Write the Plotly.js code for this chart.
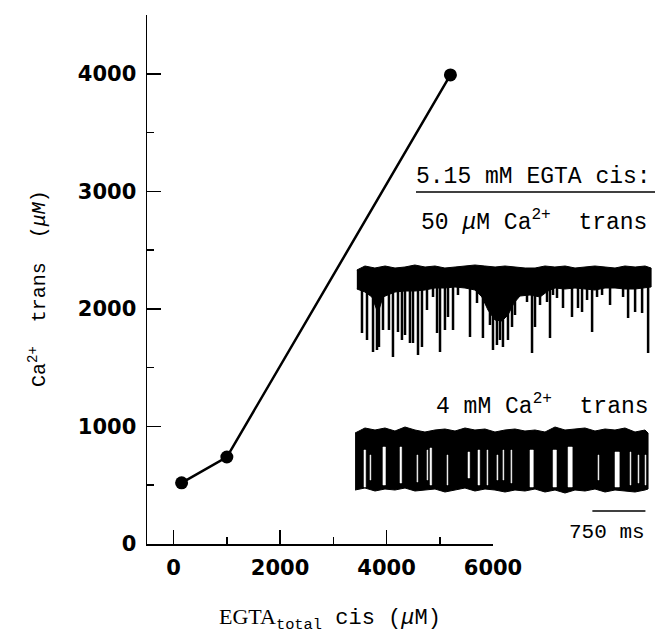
<!DOCTYPE html>
<html>
<head>
<meta charset="utf-8">
<script src="https://cdn.plot.ly/plotly-3.0.1.min.js"></script>
<style>html,body{margin:0;padding:0;background:#fff;}</style>
</head>
<body>
<div id="chart" style="width:659px;height:635px;"></div>
<script>
// ---- main graph: Ca2+ trans vs EGTA total cis (µM) ----
const egtaTotalCis = [150, 1000, 5200];
const caTrans = [520, 740, 3990];

// ---- inset record 1: 5.15 mM EGTA cis, 50 µM Ca2+ trans (time in ms, current in arbitrary units) ----
const rec1TopT = [0,115,255,400,540,680,820,965,1105,1245,1390,1530,1670,1810,1955,2095,2235,2380,2520,2660,2800,2945,3085,3225,3365,3510,3650,3790,3935,4075,4160];
const rec1TopV = [-5,-1,-3,-1,-3,-2,0,-2,-1,-3,-2,-1,0,-1,-2,-1,-2,-3,-3,-1,-2,-1,-3,-2,-1,-2,-3,-1,-2,-1,-3];
const rec1BotT = [0,115,214,299,370,539,681,822,963,1105,1246,1388,1529,1670,1769,1854,1953,2052,2137,2222,2307,2448,2590,2703,2802,2943,3084,3226,3367,3509,3650,3791,3933,4074,4160];
const rec1BotV = [-24,-27,-32,-48,-32,-27,-26,-26,-25,-23,-23,-22,-23,-25,-32,-45,-55,-56,-50,-38,-31,-30,-32,-26,-23,-24,-23,-24,-25,-23,-23,-24,-24,-23,-22];
const rec1EventT = [73,144,229,285,313,370,454,511,582,638,681,751,794,865,921,992,1077,1134,1176,1246,1289,1360,1430,1600,1699,1783,1882,1925,1981,2024,2066,2137,2194,2236,2335,2406,2477,2519,2590,2689,2731,2774,2830,2915,3042,3127,3184,3255,3326,3396,3467,3580,3764,3835,3934,4033,4118];
const rec1EventMin = [-68,-75,-87,-85,-82,-65,-65,-92,-67,-75,-70,-78,-78,-90,-82,-45,-32,-68,-87,-65,-52,-65,-30,-72,-38,-73,-60,-85,-80,-75,-82,-75,-62,-50,-30,-37,-88,-62,-40,-37,-73,-30,-33,-43,-52,-43,-47,-35,-67,-32,-30,-40,-32,-53,-47,-48,-88];

// ---- inset record 2: 5.15 mM EGTA cis, 4 mM Ca2+ trans ----
const rec2T = [-25,115,257,398,539,681,822,963,1105,1246,1388,1529,1670,1812,1953,2095,2236,2377,2519,2660,2802,2943,3084,3226,3367,3509,3650,3791,3933,4074,4117];
const rec2TopV = [-8,-3,-5,-3,-6,-2,-5,-7,-5,-4,-6,-3,-5,-4,-7,-5,-4,-6,-5,-7,-2,-5,-4,-3,-6,-4,-5,-3,-7,-5,-8];
const rec2BotV = [-65,-63,-66,-64,-65,-63,-66,-65,-64,-67,-65,-63,-66,-64,-65,-67,-65,-66,-64,-67,-65,-68,-65,-66,-64,-67,-65,-66,-67,-65,-64];
// open dwell periods (no closings) : start, end, upper, lower
const rec2DwellStart = [101,186,369,610,850,992,1035,1275,1572,1713,1840,1981,2066,2179,2448,2774,2986,3410,3650,3863,3976,4075];
const rec2DwellEnd   = [125,198,405,634,862,1003,1058,1287,1595,1737,1852,1994,2078,2191,2495,2822,3046,3422,3711,3875,3988,4087];
const rec2DwellUp    = [-25,-30,-22,-22,-30,-25,-23,-30,-27,-25,-25,-30,-25,-25,-25,-25,-22,-30,-27,-27,-30,-30];
const rec2DwellLow   = [-62,-55,-60,-58,-57,-55,-60,-60,-53,-60,-60,-55,-55,-58,-62,-62,-62,-55,-62,-60,-58,-60];

const scaleBarMs = 750;
const scaleBarStart = 3330;

// ---- build traces ----
function bandPolygon(tTop, vTop, tBot, vBot) {
  return {
    x: tTop.concat(tBot.slice().reverse()),
    y: vTop.concat(vBot.slice().reverse())
  };
}
const band1 = bandPolygon(rec1TopT, rec1TopV, rec1BotT, rec1BotV);
const band2 = bandPolygon(rec2T, rec2TopV, rec2T, rec2BotV);

const ev1x = [], ev1y = [];
rec1EventT.forEach((t, i) => { ev1x.push(t, t, null); ev1y.push(-18, rec1EventMin[i], null); });

const dx = [], dy = [];
rec2DwellStart.forEach((s, i) => {
  const e = rec2DwellEnd[i];
  dx.push(s, e, e, s, s, null);
  dy.push(rec2DwellUp[i], rec2DwellUp[i], rec2DwellLow[i], rec2DwellLow[i], rec2DwellUp[i], null);
});

const traces = [
  {x: egtaTotalCis, y: caTrans, type: 'scatter', mode: 'lines+markers',
   line: {color: '#000', width: 2.5}, marker: {color: '#000', size: 13},
   xaxis: 'x', yaxis: 'y', cliponaxis: false, hoverinfo: 'skip'},
  {x: band1.x, y: band1.y, type: 'scatter', mode: 'lines', fill: 'toself',
   fillcolor: '#000', line: {color: '#000', width: 1}, xaxis: 'x2', yaxis: 'y2', hoverinfo: 'skip'},
  {x: ev1x, y: ev1y, type: 'scatter', mode: 'lines', connectgaps: false,
   line: {color: '#000', width: 2.5}, xaxis: 'x2', yaxis: 'y2', hoverinfo: 'skip'},
  {x: band2.x, y: band2.y, type: 'scatter', mode: 'lines', fill: 'toself',
   fillcolor: '#000', line: {color: '#000', width: 1}, xaxis: 'x2', yaxis: 'y3', hoverinfo: 'skip'},
  {x: dx, y: dy, type: 'scatter', mode: 'lines', fill: 'toself', connectgaps: false,
   fillcolor: '#fff', line: {color: '#fff', width: 0.5}, xaxis: 'x2', yaxis: 'y3', hoverinfo: 'skip'},
  {x: [scaleBarStart, scaleBarStart + scaleBarMs], y: [-86, -86], type: 'scatter', mode: 'lines',
   line: {color: '#000', width: 1.5}, xaxis: 'x2', yaxis: 'y3', hoverinfo: 'skip'}
];

const W = 659, H = 635;
const px = v => v / W, py = v => 1 - v / H;
const mono = 'Liberation Mono, DejaVu Sans Mono, monospace';
const serif = 'Liberation Serif, DejaVu Serif, serif';

const layout = {
  width: W, height: H,
  margin: {l: 0, r: 0, t: 0, b: 0},
  paper_bgcolor: '#fff', plot_bgcolor: 'rgba(0,0,0,0)',
  showlegend: false,
  xaxis: {
    domain: [px(147), px(493)], range: [-500, 6000], anchor: 'y',
    showgrid: false, zeroline: false, showline: true, linecolor: '#000', linewidth: 1.5,
    ticks: 'inside', tick0: 0, dtick: 2000, ticklen: 14, tickwidth: 1.5, tickcolor: '#000',
    minor: {dtick: 1000, tick0: 0, ticks: 'inside', ticklen: 7, tickwidth: 1.5, tickcolor: '#000', showgrid: false},
    tickfont: {family: 'DejaVu Sans', size: 21, weight: 'bold', color: '#000'},
    ticklabelstandoff: 4, fixedrange: true
  },
  yaxis: {
    domain: [py(544), py(15)], range: [0, 4500], anchor: 'x',
    showgrid: false, zeroline: false, showline: true, linecolor: '#000', linewidth: 1.5,
    ticks: 'inside', tick0: 0, dtick: 1000, ticklen: 14, tickwidth: 1.5, tickcolor: '#000',
    minor: {dtick: 500, tick0: 0, ticks: 'inside', ticklen: 7, tickwidth: 1.5, tickcolor: '#000', showgrid: false},
    tickfont: {family: 'DejaVu Sans', size: 21, weight: 'bold', color: '#000'},
    ticklabelstandoff: 5, fixedrange: true
  },
  xaxis2: {domain: [0.52, 1.0], range: [-200, 4272], anchor: 'y2', visible: false, fixedrange: true},
  yaxis2: {domain: [py(365), py(255)], range: [-100, 10], anchor: 'x2', visible: false, fixedrange: true},
  yaxis3: {domain: [py(540), py(420)], range: [-115, 5], anchor: 'x2', visible: false, fixedrange: true},
  shapes: [
    {type: 'line', xref: 'paper', yref: 'paper', x0: px(416), x1: px(655), y0: py(192), y1: py(192),
     line: {color: '#000', width: 1.5}}
  ],
  annotations: [
    {xref: 'paper', yref: 'paper', x: px(533), y: py(177), xanchor: 'center', yanchor: 'middle', showarrow: false,
     text: '5.15 mM EGTA cis:', font: {family: mono, size: 23, color: '#000'}},
    {xref: 'paper', yref: 'paper', x: px(534), y: py(221), xanchor: 'center', yanchor: 'middle', showarrow: false,
     text: '50 <i>μ</i>M Ca<sup>2+</sup>\u00a0\u00a0trans', font: {family: mono, size: 23, color: '#000'}},
    {xref: 'paper', yref: 'paper', x: px(542), y: py(405), xanchor: 'center', yanchor: 'middle', showarrow: false,
     text: '4 mM Ca<sup>2+</sup>\u00a0\u00a0trans', font: {family: mono, size: 23, color: '#000'}},
    {xref: 'paper', yref: 'paper', x: px(607), y: py(532), xanchor: 'center', yanchor: 'middle', showarrow: false,
     text: '750 ms', font: {family: mono, size: 21, color: '#000'}},
    {xref: 'paper', yref: 'paper', x: px(330), y: py(619), xanchor: 'center', yanchor: 'middle', showarrow: false,
     text: '<span style="font-family:' + serif + '">EGTA</span><sub>total</sub> cis (<i>μ</i>M)',
     font: {family: mono, size: 22, color: '#000'}},
    {xref: 'paper', yref: 'paper', x: px(38), y: py(289), xanchor: 'center', yanchor: 'middle', showarrow: false,
     textangle: -90,
     text: 'Ca<sup>2+</sup>\u00a0\u00a0trans\u00a0\u00a0(<i>μM</i>)', font: {family: mono, size: 20, color: '#000'}}
  ]
};

Plotly.newPlot('chart', traces, layout, {staticPlot: true, displayModeBar: false});
</script>
</body>
</html>
